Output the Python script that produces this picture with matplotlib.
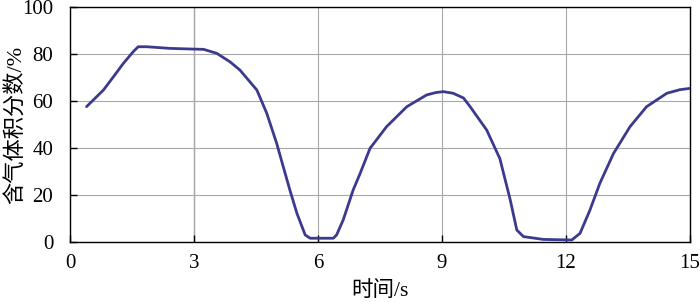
import matplotlib
matplotlib.use("Agg")
import matplotlib.pyplot as plt
import numpy as np

plt.rcParams['font.family'] = ['Liberation Serif', 'Noto Sans CJK SC']

# 时间 (s) 与 含气体积分数 (%)
t = [0.40, 0.81, 1.05, 1.29, 1.53, 1.65, 1.86, 2.42, 2.98, 3.23, 3.55, 3.87,
     4.11, 4.52, 4.76, 5.0, 5.16, 5.32, 5.49, 5.69, 5.81, 6.37, 6.45, 6.61,
     6.85, 7.02, 7.26, 7.66, 8.15, 8.63, 8.85, 9.03, 9.27, 9.52, 9.68, 10.08,
     10.40, 10.65, 10.81, 10.97, 11.45, 12.14, 12.34, 12.58, 12.82, 13.15,
     13.55, 13.95, 14.44, 14.75, 15.0]
gas = [57.6, 64.7, 70.3, 76.0, 81.0, 83.1, 83.1, 82.4, 82.1, 82.0, 80.3, 76.7,
       73.2, 64.7, 54.8, 42.0, 32.0, 22.1, 12.2, 3.0, 1.6, 1.6, 3.0, 9.4,
       22.1, 29.2, 39.9, 49.1, 57.6, 62.6, 63.6, 64.0, 63.3, 61.3, 57.6, 47.7,
       35.5, 18.0, 5.1, 2.3, 1.1, 0.85, 3.7, 13.6, 25.0, 37.7,
       49.1, 57.6, 63.3, 64.8, 65.4]

xticks = [0, 3, 6, 9, 12, 15]
yticks = [0, 20, 40, 60, 80, 100]

fig = plt.figure(figsize=(7, 3.02), dpi=100)
ax = fig.add_axes([0.1, 0.1987, 0.8857, 0.778])

ax.plot(t, gas, color='#3b3a8e', lw=2.0, solid_capstyle='round',
        solid_joinstyle='round', zorder=3)

ax.set_xlim(0, 15)
ax.set_ylim(0, 100)
ax.set_xticks(xticks)
ax.set_yticks(yticks)
ax.grid(True, color='#a8a8a8', lw=0.8)
ax.axvline(3, color='#6a6a6a', lw=0.9, zorder=1)

ax.tick_params(direction='in', length=5, width=1, labelsize=15)
ax.tick_params(axis='x', pad=9)
ax.tick_params(axis='y', pad=12)
for s in ax.spines.values():
    s.set_linewidth(1)
    s.set_color('black')

ax.set_xlabel('时间/s', fontsize=15.5)
ax.set_ylabel('含气体积分数/%', fontsize=16)
ax.xaxis.set_label_coords(0.5, -0.165)
ax.yaxis.set_label_coords(-0.07, 0.5)

fig.savefig('out.png', dpi=100)
